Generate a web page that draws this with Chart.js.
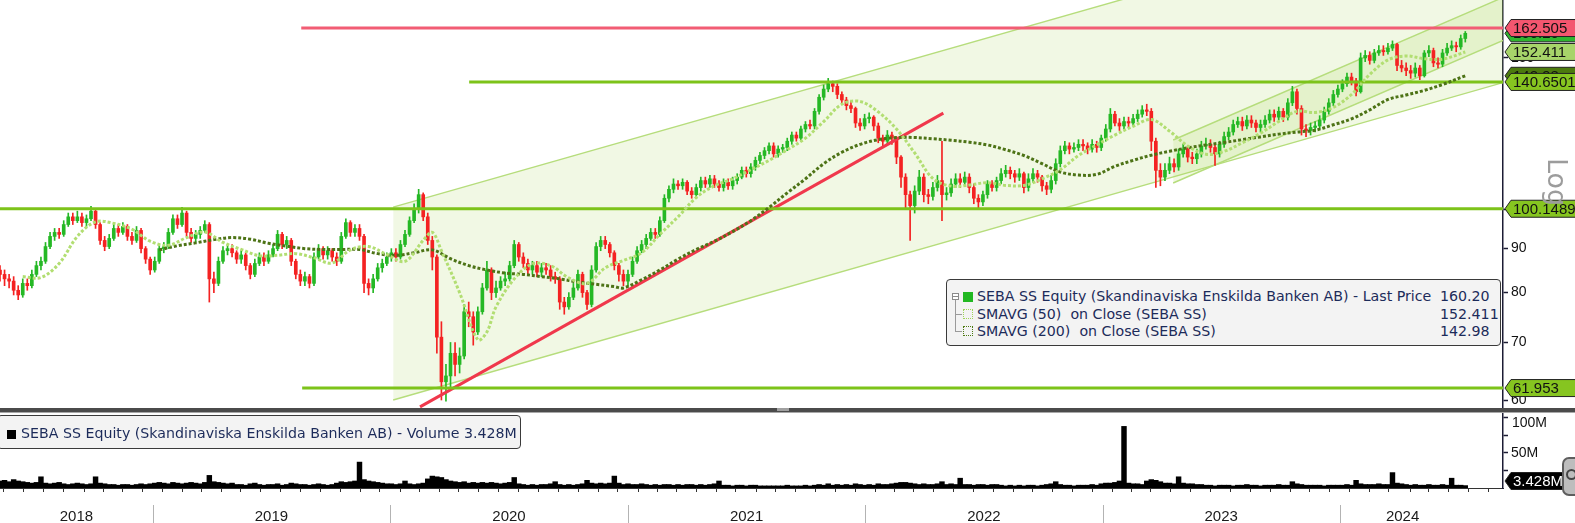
<!DOCTYPE html>
<html><head><meta charset="utf-8">
<script src="https://cdn.jsdelivr.net/npm/chart.js@4.4.1/dist/chart.umd.min.js"></script>
<style>
html,body{margin:0;padding:0;background:#fff;width:1575px;height:523px;overflow:hidden;font-family:"DejaVu Sans",sans-serif;}
#wrap{position:relative;width:1575px;height:523px;overflow:hidden;}
canvas{position:absolute;left:0;}
#price{top:0;}
#vol{top:408px;}
.sep{position:absolute;left:0;width:1575px;}
.box{position:absolute;background:#f3f3f3;border:1px solid #3a3a3a;border-radius:4px;box-sizing:border-box;color:#1c2b5a;font-size:14.2px;}
.row{position:absolute;left:0;height:17px;line-height:17px;white-space:nowrap;width:100%;}
.row .t{position:absolute;left:30px;}
.row .v{position:absolute;left:493px;}
.ico{position:absolute;box-sizing:border-box;}
#logtxt{position:absolute;left:1530px;top:167px;width:54px;height:30px;line-height:30px;text-align:center;font-size:27px;color:#9c9c9c;transform:rotate(90deg);}
</style></head><body>
<div id="wrap">
<canvas id="price" width="1575" height="408"></canvas>
<canvas id="vol" width="1575" height="115"></canvas>
<div class="sep" style="top:408px;height:4px;background:#4b4b4b;"></div>
<div class="sep" style="top:412px;height:1px;background:#a8a8a8;"></div>
<div style="position:absolute;left:777px;top:408px;width:12px;height:3px;background:#a0a0a0;"></div>
<div id="logtxt">Log</div>
<div class="box" id="legend" style="left:946px;top:279px;width:555px;height:67px;">
  <div class="ico" style="left:5px;top:13px;width:7px;height:7px;border:1px solid #8a8a8a;background:#fff;"></div>
  <div class="ico" style="left:6px;top:16px;width:5px;height:1px;background:#8a8a8a;"></div>
  <div class="ico" style="left:8px;top:20px;width:1px;height:32px;background:#9a9a9a;"></div>
  <div class="ico" style="left:8px;top:34px;width:7px;height:1px;background:#9a9a9a;"></div>
  <div class="ico" style="left:8px;top:51px;width:7px;height:1px;background:#9a9a9a;"></div>
  <div class="ico" style="left:16px;top:12px;width:10px;height:10px;background:#22b822;"></div>
  <div class="ico" style="left:16px;top:29px;width:10px;height:10px;border:1px dotted #9fd45a;"></div>
  <div class="ico" style="left:16px;top:46px;width:10px;height:10px;border:1px dotted #4e7a12;"></div>
  <div class="row" style="top:8px"><span class="t" id="lg0"></span><span class="v" id="lv0"></span></div>
  <div class="row" style="top:25.5px"><span class="t" id="lg1"></span><span class="v" id="lv1"></span></div>
  <div class="row" style="top:43px"><span class="t" id="lg2"></span><span class="v" id="lv2"></span></div>
</div>
<div class="box" id="vlegend" style="left:-3px;top:415px;width:524px;height:34px;">
  <div class="ico" style="left:9px;top:14px;width:9px;height:9px;background:#000;"></div>
  <div class="row" style="top:9px"><span class="t" style="left:23px" id="vlg"></span></div>
</div>
<div style="position:absolute;left:1562px;top:457px;width:24px;height:39px;background:#bdbdbd;border:2px solid #5e5e5e;border-radius:7px;box-sizing:border-box;"></div>
<div style="position:absolute;left:1566px;top:469px;width:11px;height:11px;border:2px solid #444;border-radius:50%;box-sizing:border-box;"></div>
</div>
<script>
// ---------------- DATA ----------------
const firstWeek = '2018-05-11';   // date of weekly bar 0
const axisEnd = '2024-09-08';     // right edge of the time axis
const years = ['2018','2019','2020','2021','2022','2023','2024'];

const open = [
85,84,83,82.5,80.5,79.5,82,81.5,84,86,
87,90.5,93,94,93.5,96,98,97,98,96.5,
97.5,99.5,96,92,90.5,92.5,95,94,95.5,93,
92,94.5,90,87.5,85,87,90,90.5,94,97.5,
96,99,94,92.5,93.5,94.5,96,83,82,87,
89.5,90,89,87.5,88.5,86,84,86.5,88,87,
88.5,90,93.5,91,92,87,84,82.5,83.5,82,
88,90,88.5,89.5,88,87,93,96.5,94,95,
93,82,81,83,85.5,86.5,88,89,88,91,
93.5,97,100,104,98,92,88,71,63,64,
68,66,67.5,76,75,72,76,81,85,80,
81,82.5,83,86,91,88,86.5,85,86,84.5,
85.5,85,83.5,83,78,77,79,81,84,80,
77.5,85,90.5,92,91,89,86,84,82.5,84,
87,89.5,91,92.5,94,93.5,97,103,105.5,107,
106.5,107.5,105,104,106,108,107,108.5,107,106,
107.5,106.5,108,109,111,110,112,114,115.5,117,
118.5,116,117.5,118,120,122,121,124,125.5,125,
130,135,138,140,139,136,134,132,131,126,
125,127.5,128,125,121,120,122,121,115,109,
104,101,105,109,104,103.5,106,108,104,104.5,
107,108.5,107.5,109,106,103,102,104,107,106,
108,110,111,110,109,110,106,108.5,110,109,
106.5,105.5,108,113,117,118.5,117.5,118,119,118.5,
117.5,119,118,121,124,129,126,125,126.5,126,
127.5,129,130.5,130,120,111,109,111,113,112,
116,117.5,115,114.5,116,118.5,119,118,116,119,
121.5,123,125.5,126.5,125,127,126,124.5,125.5,127,
129,128,130,128,133,137,131,124,123.5,124.5,
125,127,130,133,136,138,140,142.5,141,137,
150,151,149,152,153,152.5,154,155.5,147,146,
145,144,146,143,152,153,148,147.5,152,154,
155,154.5,158];

const high = [
86,85,84,83.5,81.5,83,83,85,87,88,
91.5,94,95,95,97,99,99,99.5,99,98.5,
100.8,100,96.5,93,93.5,96,96,96.5,96,94,
95.5,95,90.5,88,88,91,91.5,95,98.5,98.5,
100.5,99.5,95,94.5,95.5,97,96.5,84.5,88,90.5,
91,91,89.5,89.5,89,86.5,87.5,89,89,89.5,
91,94.5,94,93,92.5,87.5,85,84.5,84,89,
91,90.5,90.5,90,89,94,97.5,97,96,96,
93.5,83,84,86.5,87.5,89,90,90,92,94.5,
98,101.5,105.5,104.5,99,93,88.5,74,66,70,
70,69,77.5,78,76,77,82,87,85.5,82.5,
83.5,84.5,87,92,91.5,89,87.5,87,87,86.5,
86.5,86,84.5,83.5,79,80,82,85,84.5,80.5,
86,91.5,93,93,91.5,89.5,86.5,85,85,88,
90.5,92,93.5,95,95,98,104,106.5,108.5,108,
108.5,108,106,107,109,109,109.5,109.5,108,108.5,
108.5,109,110,112,112,113,115,116.5,118,119.5,
119.5,118.5,119,121,123,123,125,126.5,127,131,
136,139.5,142,141,140,137,135,133.5,131.5,127.5,
129,129.5,128.5,126,122,123.5,123,121.5,115.5,110,
105,106.5,111,110,105.5,107.5,109.5,120,106,108.5,
110,110,110.5,110,107,104,105,108,108,109,
111.5,112.5,112,111,111.5,110.5,110,111.5,111,109.5,
107.5,109.5,114.5,118.5,120,119.5,119.5,120.5,120.5,119.5,
120.5,120,122,125.5,131,130,127.5,128,128,129,
130.5,132,132.5,131,121,113,113,115,114.5,117.5,
119,118.5,116.5,117.5,120,121,120.5,119,120,123,
124.5,127,128,128,128.5,128.5,127,127,128.5,130.5,
130.5,131.5,131,134.5,139,138,132,125.5,126,126.5,
128.5,131.5,134.5,137.5,139.5,141.5,144,144,142,152,
153,152.5,153.5,155,155,156,157,156,149,148,
147,148,147,153,155,154,150,153.5,156,157,
156.5,159.5,161];

const low = [
82.5,81.5,81,79.5,78.5,79,80.5,81,83.5,85,
86.5,90,92,92.5,93,95.5,96,96.5,95.5,95.5,
97,95,91,89.5,90,92,93,93.5,92,91,
91.5,89,86.5,84,84.5,86.5,89,90,93.5,95,
95.5,93,91.5,91.5,92.5,94,78,80,81.5,86.5,
88.5,88,86.5,86.5,85,83,83.5,86,86,86.5,
88,89.5,90,90,86,83,81.5,81.5,81,81.5,
87.5,87.5,87.5,87,86,86.5,92.5,93,93,92,
80,79.5,80,82.5,84.5,86,87,87,87.5,90.5,
93,96.5,99,97,91,85,68,60,59.8,62,
64,64.5,67,73,69.5,71.5,75.5,80.5,78.5,79,
80.5,81.5,82.5,85.5,87,85.5,84,84,83.5,83.5,
84,82.5,82,76.5,75.5,76.5,78.5,80.5,79,76.5,
77,84.5,89.5,90,88,85,82.5,81.5,81.5,83.5,
86.5,89,90,92,92.5,93,96.5,102,104.5,105.5,
105.5,104,103,103,105,106,106,106,105,105,
105.5,105.5,107,108.5,109,109,111,113,114.5,116,
115,115,116.5,117,119,120,120,123,124,124,
129,134,137,137,134.5,132.5,130.5,129.5,124.5,123.5,
124,126,123.5,119.5,118,119,119,113,106,100,
92,99,104,102,101.5,102.5,105,97,102.5,103.5,
106,106,106.5,104.5,101.5,100,101,103,105,105,
107,109,108.5,107.5,108,104.5,105,107.5,107.5,105,
104,104.5,107,112,116,116,116.5,117,117,116,
116.5,116.5,117,120,123,125,123.5,124,124.5,125,
126.5,128,128.5,117,106,106.5,108,110,110.5,111,
115,113.5,113,113,115,117.5,116.5,112.5,115,118,
120.5,122,124.5,123.5,124,124.5,123,123,124.5,126,
126.5,127,126.5,127,132,129,122,121.5,122,123,
124,126,129,132,135,137,139,139.5,135.5,136.5,
148.5,147.5,148,151,151,151.5,153,145,144.5,143,
142,142.5,141.5,142.5,150.5,146.5,146,146.5,151,153,
152.5,153.5,156.5];

const close = [
84,83,82.5,80.5,79.5,82,81.5,84,86,87,
90.5,93,94,93.5,96,98,97,98,96.5,97.5,
99.5,96,92,90.5,92.5,95,94,95.5,93,92,
94.5,90,87.5,85,87,90,90.5,94,97.5,96,
99,94,92.5,93.5,94.5,96,83,82,87,89.5,
90,89,87.5,88.5,86,84,86.5,88,87,88.5,
90,93.5,91,92,87,84,82.5,83.5,82,88,
90,88.5,89.5,88,87,93,96.5,94,95,93,
82,81,83,85.5,86.5,88,89,88,91,93.5,
97,100,104,98,92,88,71,63,64,68,
66,67.5,76,75,72,76,81,85,80,81,
82.5,83,86,91,88,86.5,85,86,84.5,85.5,
85,83.5,83,78,77,79,81,84,80,77.5,
85,90.5,92,91,89,86,84,82.5,84,87,
89.5,91,92.5,94,93.5,97,103,105.5,107,106.5,
107.5,105,104,106,108,107,108.5,107,106,107.5,
106.5,108,109,111,110,112,114,115.5,117,118.5,
116,117.5,118,120,122,121,124,125.5,125,130,
135,138,140,139,136,134,132,131,126,125,
127.5,128,125,121,120,122,121,115,109,104,
101,105,109,104,103.5,106,108,104,104.5,107,
108.5,107.5,109,106,103,102,104,107,106,108,
110,111,110,109,110,106,108.5,110,109,106.5,
105.5,108,113,117,118.5,117.5,118,119,118.5,117.5,
119,118,121,124,129,126,125,126.5,126,127.5,
129,130.5,130,120,111,109,111,113,112,116,
117.5,115,114.5,116,118.5,119,118,116,119,121.5,
123,125.5,126.5,125,127,126,124.5,125.5,127,129,
128,130,128,133,137,131,124,123.5,124.5,125,
127,130,133,136,138,140,142.5,141,137,150,
151,149,152,153,152.5,154,155.5,147,146,145,
144,146,143,152,153,148,147.5,152,154,155,
154.5,158,160.2];

// volume, millions
const volume = [
10,11,9,12,10,9,8,7,8,16,
7,6,7,8,6,5,6,7,6,5,6,16,
7,6,5,5,4,5,5,4,5,6,5,
6,7,8,7,6,8,7,6,7,8,7,6,8,18,
9,8,7,6,7,
5,5,4,6,7,5,4,5,5,6,4,5,7,6,5,5,4,5,6,5,4,5,
7,9,8,9,10,37,12,10,9,8,7,6,
6,5,6,10,6,5,6,7,13,17,16,15,12,10,9,8,9,
7,8,7,8,7,8,7,6,7,8,15,
6,5,4,5,4,5,5,6,9,5,4,5,4,5,6,11,
7,6,7,6,7,17,7,5,6,5,5,6,
5,4,5,4,5,5,4,5,4,5,5,4,5,4,5,6,10,
4,4,3,4,4,3,4,4,
3,3,3,3,3,3,4,3,3,3,4,3,
4,5,4,6,4,5,4,5,4,6,5,4,5,4,6,5,5,6,
7,8,8,7,6,5,6,5,5,6,9,5,6,5,14,
5,5,4,5,5,4,5,5,
4,3,4,3,4,3,4,4,3,4,5,6,9,
5,4,4,3,4,4,4,5,4,6,7,7,8,10,88,
7,6,6,5,10,12,11,9,7,7,6,16,7,6,6,5,5,
4,4,3,4,4,4,3,4,4,5,4,4,3,4,4,4,5,4,4,9,
6,5,4,4,4,4,3,4,4,4,4,5,4,11,
6,5,5,5,6,5,5,22,7,6,5,
4,5,4,4,5,4,4,5,4,14,4,4,3.428];

// moving averages (week index, value)
const sma50Weeks = [5,9,13,17,21,25,29,33,37,41,45,49,53,57,61,65,69,73,77,81,85,89,93,95,97,101,105,107,109,113,117,121,125,129,133,137,141,145,149,153,157,161,165,169,173,177,181,185,189,193,197,201,205,209,213,217,221,225,229,233,237,241,245,249,253,257,261,265,269,273,277,281,285,289,293,297,301,305,309,313,317,322];
const sma50 = [83.5,83.3,86.5,93,96.7,96.3,94.8,91.8,90.8,92.7,94.1,91.5,89.8,88.3,88.4,88.8,87.8,86.6,89.7,90.5,88.6,87,92,94,89.5,80,70.5,72,77,83,86.4,86,83.2,82,85.5,87.2,89,93.5,98,103.2,106.5,108.5,111.2,114,117.3,121,126.5,132.5,133.5,129.8,124,116.3,108.6,106.4,106.7,107.4,106.6,106.6,108.5,111.2,115.5,118.8,122,124.9,127.2,123.3,118.5,115.9,116.8,119.5,122.6,126.5,130,129.6,131.4,136,143.5,149.2,150.8,149.7,149.5,152.411];
const sma200Weeks = [35,39,43,47,51,55,59,63,67,71,75,79,83,87,91,95,99,103,107,111,115,119,123,127,131,135,137,141,145,149,153,157,161,165,169,173,177,181,185,189,193,197,201,205,209,213,217,221,225,229,233,237,241,245,249,253,257,261,265,269,273,277,281,285,289,293,297,301,305,309,313,317,322];
const sma200 = [89.7,90.7,91.4,92.2,92.7,92.3,91.3,90.6,90,89.8,89.8,89.8,88.8,88.4,89,89.7,87.6,86,85,84.3,84,83.5,83,82.3,81.8,81.3,81,82.8,85,87.5,89.8,91.8,94.2,97,100.5,104.5,108.5,113,116.5,119,120.5,121.2,121.2,120.8,120.3,119.7,118.8,117.3,115.5,113,110.5,109.6,109.8,112.2,114,115.6,116.8,117.9,118.8,119.6,120.5,121.4,122.3,123,123.6,125.4,127.4,130.5,134.2,135.8,137.5,139.7,142.98];

// drawn studies: [week, price] endpoints
const levelValues = [162.505, 140.6501, 100.1489, 61.953];
const levelStartWeeks = [66.2, 103.1, 0, 66.4];
const trendLine = [[92.3, 58.9], [207.3, 129.4]];
const channelUpper = [[86.4, 100.6], [330.3, 234.5]];
const channelLower = [[86.4, 60.0], [330.3, 140.4]];
const innerUpper = [[257.8, 120.4], [330.3, 176.4]];
const innerLower = [[257.8, 107.3], [330.3, 157.2]];

const priceTicks = [60, 70, 80, 90, 100, 150];
const priceRange = [58.73, 175.17];
const volTicks = [25, 50, 75, 100];
const volTickLabels = ['', '50M', '', '100M'];
const volMax = 105.7;

const seriesNames = ['SEBA SS Equity (Skandinaviska Enskilda Banken AB) - Last Price',
  'SMAVG (50)\u00a0 on Close (SEBA SS)', 'SMAVG (200)\u00a0 on Close (SEBA SS)'];
const legendValues = ['160.20', '152.411', '142.98'];
const volumeName = 'SEBA SS Equity (Skandinaviska Enskilda Banken AB) - Volume 3.428M';
const tagValues = [160.20, 142.98, 162.505, 152.411, 140.6501, 100.1489, 61.953];
const tagLabels = ['160.20', '142.98', '162.505', '152.411', '140.6501', '100.1489', '61.953'];
const volTagValue = 3.428;
const volTagLabel = '3.428M';

// ---------------- BUILD ----------------
const DAY = 864e5;
const weekOf = d => (Date.parse(d) - Date.parse(firstWeek)) / (7 * DAY);
const xMax = weekOf(axisEnd);
const lastWeek = close.length - 1;
const CANVAS_FONT = '"Liberation Sans", Arial, sans-serif';

document.getElementById('lg0').textContent = seriesNames[0];
document.getElementById('lg1').textContent = seriesNames[1];
document.getElementById('lg2').textContent = seriesNames[2];
document.getElementById('lv0').textContent = legendValues[0];
document.getElementById('lv1').textContent = legendValues[1];
document.getElementById('lv2').textContent = legendValues[2];
document.getElementById('vlg').textContent = volumeName;

Chart.defaults.font.family = CANVAS_FONT;
Chart.defaults.animation = false;

const GREEN = '#25b825', RED = '#f42222';
const candleColors = close.map((c, i) => c >= open[i] ? GREEN : RED);
const pts = arr => arr.map(p => ({x: p[0], y: p[1]}));
const lineDS = (data, color, width, extra) => Object.assign({
  type: 'line', data, borderColor: color, borderWidth: width, pointRadius: 0,
  fill: false, tension: 0, spanGaps: true
}, extra || {});

const tagStyles = [
  {fill: '#2fb52f', text: '#111'}, {fill: '#4c7a0e', text: '#111'},
  {fill: '#f3566f', text: '#111'}, {fill: '#a7d46a', text: '#111'},
  {fill: '#86c520', text: '#111'}, {fill: '#86c520', text: '#111'},
  {fill: '#86c520', text: '#111'}];

function drawTag(ctx, x0, yc, text, fill, tcolor) {
  const h = 17, tip = 6, w = 80;
  ctx.save();
  ctx.beginPath();
  ctx.moveTo(x0, yc);
  ctx.lineTo(x0 + tip, yc - h / 2);
  ctx.lineTo(x0 + w, yc - h / 2);
  ctx.lineTo(x0 + w, yc + h / 2);
  ctx.lineTo(x0 + tip, yc + h / 2);
  ctx.closePath();
  ctx.fillStyle = fill; ctx.fill();
  ctx.strokeStyle = '#222'; ctx.lineWidth = 1; ctx.stroke();
  ctx.fillStyle = tcolor;
  ctx.font = '15px ' + CANVAS_FONT;
  ctx.textBaseline = 'middle'; ctx.textAlign = 'left';
  ctx.fillText(text, x0 + tip + 2, yc + 1);
  ctx.restore();
}

const priceTagPlugin = {
  id: 'priceTags',
  afterDraw(chart) {
    const ctx = chart.ctx, ys = chart.scales.y, x0 = chart.chartArea.right + 2;
    tagValues.forEach((v, i) => {
      drawTag(ctx, x0, ys.getPixelForValue(v), tagLabels[i], tagStyles[i].fill, tagStyles[i].text);
    });
  }
};

const fixY = s => { s.width = 72; s.paddingTop = 0; s.paddingBottom = 0; };

const datasets = [
  lineDS(pts(channelLower), '#b6dd7c', 1.4, {order: 20}),
  lineDS(pts(channelUpper), '#b6dd7c', 1.4, {order: 20, fill: '-1', backgroundColor: 'rgba(170,215,90,0.165)'}),
  lineDS(pts(innerLower), '#b6dd7c', 1.4, {order: 19}),
  lineDS(pts(innerUpper), '#b6dd7c', 1.4, {order: 19, fill: '-1', backgroundColor: 'rgba(170,215,90,0.18)'}),
];
levelValues.forEach((v, i) => {
  datasets.push(lineDS([{x: levelStartWeeks[i], y: v}, {x: xMax, y: v}],
    i === 0 ? '#f25d74' : '#7dc31a', 3, {order: 5}));
});
datasets.push(lineDS(pts(trendLine), '#f0384c', 3, {order: 5}));
datasets.push({
  type: 'bar', order: 10, grouped: false, barThickness: 1,
  data: close.map((c, i) => ({x: i, y: [low[i], high[i]]})),
  backgroundColor: candleColors
});
datasets.push({
  type: 'bar', order: 9, grouped: false, barThickness: 3, minBarLength: 1,
  data: close.map((c, i) => ({x: i, y: [Math.min(open[i], c), Math.max(open[i], c)]})),
  backgroundColor: candleColors
});
datasets.push(lineDS(sma200Weeks.map((w, i) => ({x: w, y: sma200[i]})), '#4d7316', 3,
  {order: 3, borderDash: [3, 2], tension: 0.35}));
datasets.push(lineDS(sma50Weeks.map((w, i) => ({x: w, y: sma50[i]})), '#b2de72', 3,
  {order: 2, borderDash: [3, 2], tension: 0.35}));

new Chart(document.getElementById('price'), {
  type: 'bar',
  data: {datasets},
  options: {
    responsive: false, devicePixelRatio: 1, events: [],
    layout: {padding: 0},
    plugins: {legend: {display: false}, tooltip: {enabled: false}},
    scales: {
      x: {type: 'linear', min: 0, max: xMax, display: false, offset: false},
      y: {
        type: 'logarithmic', position: 'right', min: priceRange[0], max: priceRange[1],
        afterBuildTicks: s => { s.ticks = priceTicks.map(v => ({value: v})); },
        afterFit: fixY,
        ticks: {callback: v => String(v), color: '#111', font: {size: 14}, padding: 3, autoSkip: false},
        grid: {drawOnChartArea: false, tickLength: 5, tickColor: '#1c1c34', tickWidth: 1.5},
        border: {color: '#1c1c34', width: 1.5}
      }
    }
  },
  plugins: [priceTagPlugin]
});

// x axis ticks for volume panel: month starts + year labels
const xTicks = [];
for (let y = 2018; y <= 2024; y++) for (let m = 0; m < 12; m++) {
  const w = weekOf(new Date(Date.UTC(y, m, 1)).toISOString().slice(0, 10));
  if (w > 0.5 && w < xMax - 0.5) xTicks.push({value: w, label: ''});
}
const yearStarts = years.map(y => weekOf(y + '-01-01'));
years.forEach((y, k) => {
  const a = Math.max(yearStarts[k], 0);
  const b = Math.min(weekOf((+y + 1) + '-01-01'), lastWeek);
  xTicks.push({value: (a + b) / 2, label: y});
});
xTicks.sort((p, q) => p.value - q.value);

const volPlugin = {
  id: 'volExtras',
  afterDraw(chart) {
    const ctx = chart.ctx, xs = chart.scales.x, ys = chart.scales.y, ca = chart.chartArea;
    ctx.save();
    ctx.strokeStyle = '#b3b3b3'; ctx.lineWidth = 1;
    yearStarts.forEach(w => {
      if (w <= 0) return;
      const px = Math.round(xs.getPixelForValue(w)) + 0.5;
      ctx.beginPath(); ctx.moveTo(px, 97); ctx.lineTo(px, 115); ctx.stroke();
    });
    // top label sits just below its tick, as in the reference
    ctx.fillStyle = '#111'; ctx.font = '14px ' + CANVAS_FONT;
    ctx.textAlign = 'left'; ctx.textBaseline = 'middle';
    ctx.fillText(volTickLabels[3], ca.right + 9, ys.getPixelForValue(volTicks[3]) + 5);
    ctx.restore();
    let yc = ys.getPixelForValue(volTagValue);
    yc = Math.min(yc, ca.bottom - 7);
    drawTag(ctx, ca.right + 2, yc, volTagLabel, '#000', '#fff');
  }
};

new Chart(document.getElementById('vol'), {
  type: 'bar',
  data: {datasets: [{
    data: volume.map((v, i) => ({x: i, y: v})),
    backgroundColor: '#000', barThickness: 4.8, grouped: false
  }]},
  options: {
    responsive: false, devicePixelRatio: 1, events: [],
    layout: {padding: {top: 6, left: 0, right: 0, bottom: 0}},
    plugins: {legend: {display: false}, tooltip: {enabled: false}},
    scales: {
      x: {
        type: 'linear', min: 0, max: xMax, offset: false,
        afterBuildTicks: s => { s.ticks = xTicks.map(t => ({value: t.value})); },
        afterFit: s => { s.height = 35; s.paddingLeft = 0; s.paddingRight = 0; },
        ticks: {autoSkip: false, maxRotation: 0, minRotation: 0, padding: 16, color: '#1a1a1a',
          font: {size: 15}, callback: (v, i) => xTicks[i] ? xTicks[i].label : ''},
        grid: {drawOnChartArea: false, tickLength: 4,
          tickColor: c => (xTicks[c.index] && xTicks[c.index].label) ? 'rgba(0,0,0,0)' : '#333'},
        border: {color: '#333', width: 1}
      },
      y: {
        type: 'linear', position: 'right', min: 0, max: volMax,
        afterBuildTicks: s => { s.ticks = volTicks.map(v => ({value: v})); },
        afterFit: fixY,
        ticks: {callback: (v, i) => i === 3 ? '' : volTickLabels[i], color: '#111', font: {size: 14}, padding: 3, autoSkip: false},
        grid: {drawOnChartArea: false, tickLength: 5, tickColor: '#1c1c34', tickWidth: 1.5},
        border: {color: '#1c1c34', width: 1.5}
      }
    }
  },
  plugins: [volPlugin]
});
</script>
</body></html>
